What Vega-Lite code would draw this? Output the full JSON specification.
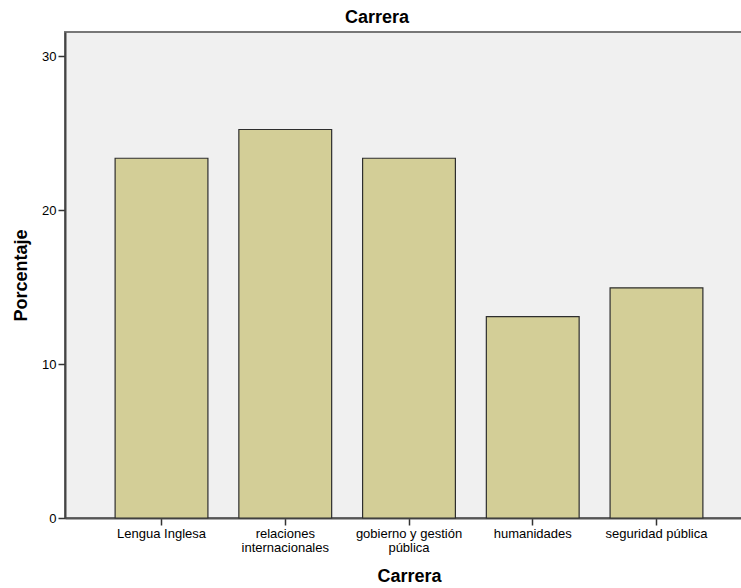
{
  "$schema": "https://vega.github.io/schema/vega-lite/v6.json",
  "autosize": "none",
  "padding": {"left": 65, "top": 32, "right": 0, "bottom": 70},
  "width": 688,
  "height": 486,
  "background": "#ffffff",
  "title": {
    "text": "Carrera",
    "font": "Liberation Sans",
    "fontSize": 18,
    "fontWeight": "bold",
    "color": "#000000",
    "anchor": "middle",
    "frame": "group",
    "dx": -32,
    "offset": 5
  },
  "config": {
    "view": {"fill": "#f0f0f0", "stroke": "#777777", "strokeWidth": 2},
    "font": "Liberation Sans"
  },
  "data": {
    "values": [
      {"Carrera": "Lengua Inglesa", "Porcentaje": 23.36},
      {"Carrera": "relaciones internacionales", "Porcentaje": 25.23},
      {"Carrera": "gobierno y gestión pública", "Porcentaje": 23.36},
      {"Carrera": "humanidades", "Porcentaje": 13.08},
      {"Carrera": "seguridad pública", "Porcentaje": 14.95}
    ]
  },
  "mark": {"type": "bar", "fill": "#d3ce97", "stroke": "#2e2e2e", "strokeWidth": 1.2},
  "encoding": {
    "x": {
      "field": "Carrera",
      "type": "nominal",
      "sort": null,
      "scale": {"paddingInner": 0.25, "paddingOuter": 0.405},
      "axis": {
        "title": "Carrera",
        "titleFont": "Liberation Sans",
        "titleFontSize": 18,
        "titleFontWeight": "bold",
        "titleColor": "#000000",
        "titlePadding": 13,
        "labelAngle": 0,
        "labelOverlap": false,
        "labelBound": false,
        "labelFont": "Liberation Sans",
        "labelFontSize": 13,
        "labelColor": "#000000",
        "labelPadding": 2,
        "labelLineHeight": 14,
        "labelExpr": "datum.value == 'relaciones internacionales' ? ['relaciones', 'internacionales'] : datum.value == 'gobierno y gestión pública' ? ['gobierno y gestión', 'pública'] : datum.label",
        "tickSize": 7,
        "tickColor": "#333333",
        "tickWidth": 1.5,
        "domainColor": "#555555",
        "domainWidth": 2
      }
    },
    "y": {
      "field": "Porcentaje",
      "type": "quantitative",
      "scale": {"domain": [0, 31.56], "nice": false, "zero": true},
      "axis": {
        "title": "Porcentaje",
        "titleFont": "Liberation Sans",
        "titleFontSize": 18,
        "titleFontWeight": "bold",
        "titleColor": "#000000",
        "titlePadding": 11,
        "values": [0, 10, 20, 30],
        "grid": false,
        "labelFont": "Liberation Sans",
        "labelFontSize": 13,
        "labelColor": "#000000",
        "labelPadding": 2,
        "tickSize": 7,
        "tickColor": "#333333",
        "tickWidth": 1.5,
        "domainColor": "#444444",
        "domainWidth": 2
      }
    }
  }
}
